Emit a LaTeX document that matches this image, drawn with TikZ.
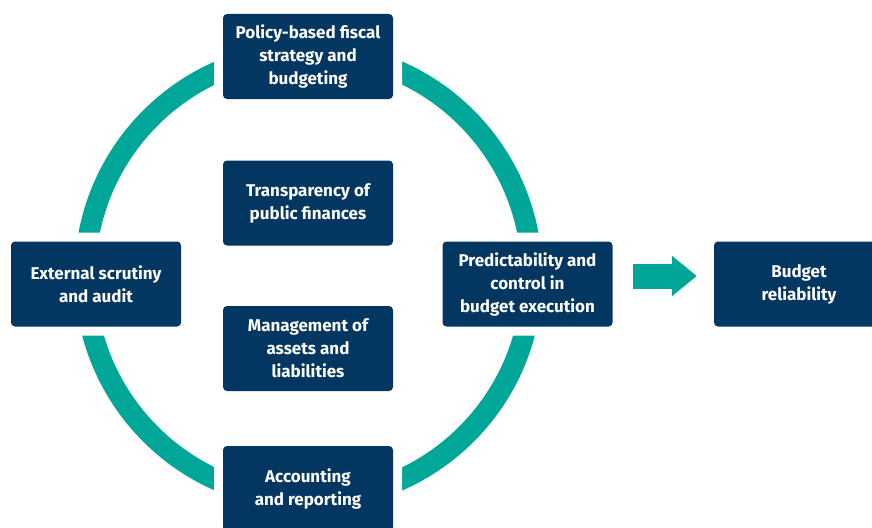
\documentclass[tikz,border=0pt]{standalone}
\usepackage{fontspec}
\setmainfont{Fira Sans}
\usetikzlibrary{arrows.meta}
\definecolor{navy}{RGB}{3,54,96}
\definecolor{pefateal}{RGB}{0,166,152}
\tikzset{
  pillar/.style={fill=navy, rounded corners=4pt, text=white, align=center,
    minimum width=170pt, minimum height=85pt, inner sep=0pt,
    font=\fontsize{17}{23}\selectfont\bfseries},
  onring/.style={pillar, preaction={draw=white, line width=18pt}},
  ring/.style={pefateal, line width=21pt},
  bigarrow/.style={pefateal, line width=25pt,
    -{Triangle[length=25pt, width=39pt]}, shorten <=20pt, shorten >=17pt}
}
\begin{document}
\begin{tikzpicture}[x=1pt, y=-1pt]
    \useasboundingbox (0,0) rectangle (872,527);
    % cycle
    \draw[ring] (308.5,276) circle (223.5);
    % pillars on the cycle
    \node[onring] (policy) at (308,56.5) {Policy-based fiscal\\strategy and\\budgeting};
    \node[onring] (scrutiny) at (96,284) {External scrutiny\\and audit};
    \node[onring] (predict) at (527.5,284) {Predictability and\\control in\\budget execution};
    \node[onring] (account) at (308,488.5) {Accounting\\and reporting};
    % pillars inside
    \node[pillar] (transp) at (308,203) {Transparency of\\public finances};
    \node[pillar] (assets) at (308,348.5) {Management of\\assets and\\liabilities};
    % outcome
    \node[pillar] (reliab) at (799,284) {Budget\\reliability};
    \draw[bigarrow] ([yshift=8pt]predict.east) -- ([yshift=8pt]reliab.west);
\end{tikzpicture}
\end{document}
